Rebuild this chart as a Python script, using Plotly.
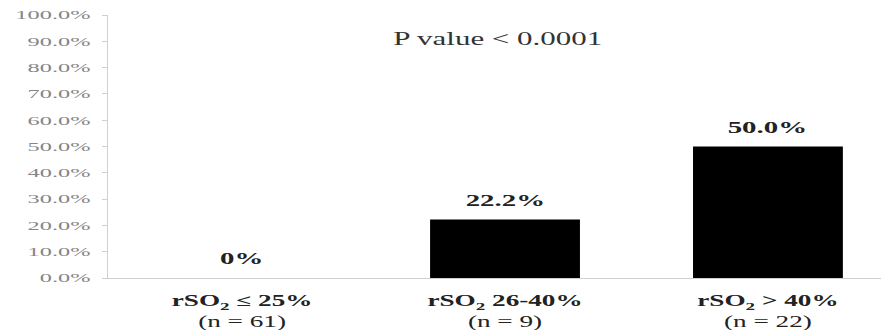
import plotly.graph_objects as go

# Groups, sample sizes and event rates (%)
categories = ["rSO<sub>2</sub> ≤ 25%", "rSO<sub>2</sub> 26-40%", "rSO<sub>2</sub> > 40%"]
group_sizes = [61, 9, 22]
rates = [0.0, 22.2, 50.0]
rate_labels = ["0%", "22.2%", "50.0%"]
y_ticks = [0, 10, 20, 30, 40, 50, 60, 70, 80, 90, 100]
p_value_text = "P value < 0.0001"

serif = "Liberation Serif, Times New Roman, serif"
x_pos = list(range(len(categories)))
x_tick_text = [f"<b>{c}</b><br>(n = {n})" for c, n in zip(categories, group_sizes)]
y_tick_text = [f"{v:.1f}%" for v in y_ticks]

fig = go.Figure(
    go.Bar(
        x=x_pos,
        y=rates,
        width=0.57,
        marker=dict(color="#000000", line=dict(width=0)),
        hoverinfo="skip",
    )
)

annotations = [
    dict(
        x=xi, y=v, xref="x", yref="y",
        text=f"<b>{lab}</b>", showarrow=False,
        yanchor="bottom", yshift=8,
        font=dict(family=serif, size=17, color="#222222"),
    )
    for xi, v, lab in zip(x_pos, rates, rate_labels)
]
annotations.append(
    dict(
        x=0.97, y=91, xref="x", yref="y",
        text=p_value_text, showarrow=False,
        font=dict(family=serif, size=18, color="#333333"),
    )
)

fig.update_layout(
    width=881,
    height=330,
    margin=dict(l=108, r=0, t=15, b=52),
    paper_bgcolor="white",
    plot_bgcolor="white",
    showlegend=False,
    annotations=annotations,
    xaxis=dict(
        range=[-0.51, 2.43],
        tickvals=x_pos,
        ticktext=x_tick_text,
        showgrid=False,
        zeroline=False,
        showline=True,
        linecolor="#d0d0d0",
        linewidth=1,
        ticks="",
        ticklabelstandoff=8,
        tickfont=dict(family=serif, size=16, color="#222222"),
    ),
    yaxis=dict(
        range=[0, 100],
        tickvals=y_ticks,
        ticktext=y_tick_text,
        showgrid=False,
        zeroline=False,
        showline=True,
        linecolor="#d0d0d0",
        linewidth=1,
        ticks="outside",
        ticklen=5,
        tickcolor="#d0d0d0",
        ticklabelstandoff=9,
        tickfont=dict(family=serif, size=12.5, color="#868686"),
    ),
)

# Widen the serif lettering horizontally (wide-set typesetting), anchored so
# each label keeps its alignment point.
widen_text = """
function widen(sel, sx, anchor) {
  document.querySelectorAll(sel).forEach(function (t) {
    var b = t.getBBox();
    var cx = anchor === 'end' ? b.x + b.width : b.x + b.width / 2;
    var tr = t.getAttribute('transform') || '';
    t.setAttribute('transform', tr + ' translate(' + cx + ',0) scale(' + sx + ',1) translate(' + (-cx) + ',0)');
  });
}
widen('.yaxislayer-above .ytick text', 1.95, 'end');
widen('.xaxislayer-above .xtick text', 1.7, 'middle');
widen('g.annotation[data-index="0"] text, g.annotation[data-index="1"] text, g.annotation[data-index="2"] text', 1.7, 'middle');
widen('g.annotation[data-index="3"] text', 1.72, 'middle');
"""

fig.write_html("out.html", post_script=widen_text)
